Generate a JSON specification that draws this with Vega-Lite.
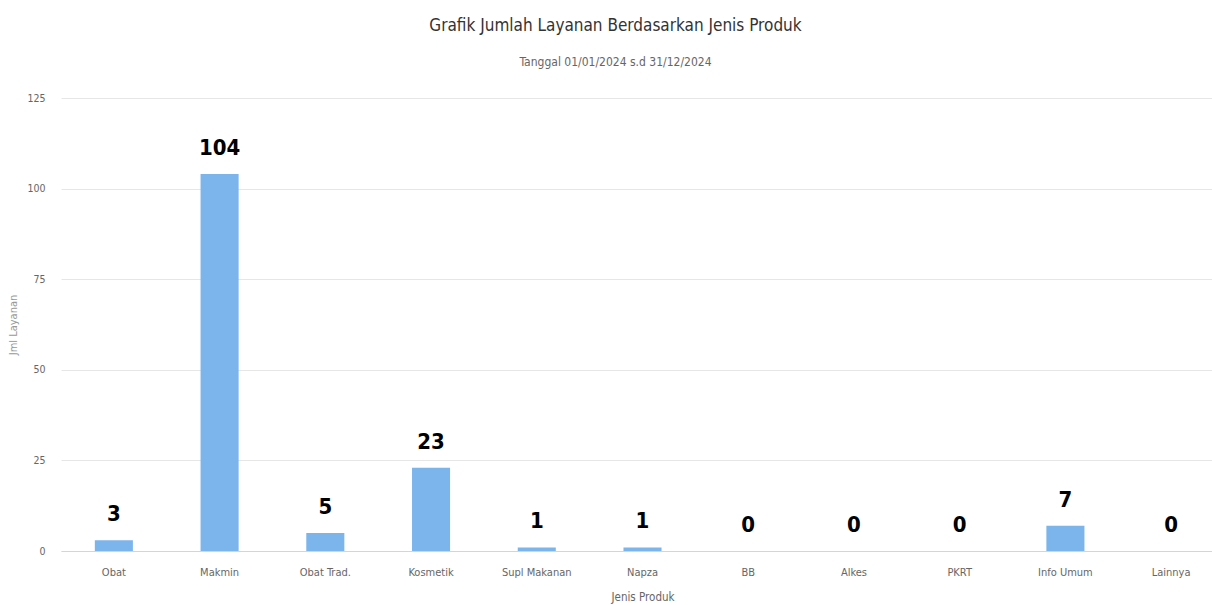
{
  "$schema": "https://vega.github.io/schema/vega-lite/v6.json",
  "width": 1163,
  "height": 453,
  "autosize": {"type": "none"},
  "padding": {"left": 61, "top": 98, "right": 0, "bottom": 54},
  "background": "white",
  "title": {
    "text": "Grafik Jumlah Layanan Berdasarkan Jenis Produk",
    "subtitle": "Tanggal 01/01/2024 s.d 31/12/2024",
    "anchor": "middle",
    "dx": -27,
    "offset": 24,
    "font": "DejaVu Sans Condensed",
    "fontSize": 17,
    "fontWeight": "normal",
    "color": "#333333",
    "subtitleFont": "DejaVu Sans Condensed",
    "subtitleFontSize": 12,
    "subtitleColor": "#666666",
    "subtitlePadding": 22
  },
  "data": {
    "values": [
      {"produk": "Obat", "jumlah": 3},
      {"produk": "Makmin", "jumlah": 104},
      {"produk": "Obat Trad.", "jumlah": 5},
      {"produk": "Kosmetik", "jumlah": 23},
      {"produk": "Supl Makanan", "jumlah": 1},
      {"produk": "Napza", "jumlah": 1},
      {"produk": "BB", "jumlah": 0},
      {"produk": "Alkes", "jumlah": 0},
      {"produk": "PKRT", "jumlah": 0},
      {"produk": "Info Umum", "jumlah": 7},
      {"produk": "Lainnya", "jumlah": 0}
    ]
  },
  "encoding": {
    "x": {
      "field": "produk",
      "type": "nominal",
      "sort": null,
      "scale": {"paddingInner": 0.64, "paddingOuter": 0.32},
      "axis": {
        "title": "Jenis Produk",
        "labelAngle": 0,
        "labelFont": "DejaVu Sans Condensed",
        "labelFontSize": 11,
        "labelColor": "#666666",
        "labelPadding": 15,
        "ticks": false,
        "domainColor": "#ccd6eb",
        "domainWidth": 1,
        "titleFont": "DejaVu Sans Condensed",
        "titleFontSize": 11.5,
        "titleFontWeight": "normal",
        "titleColor": "#666666",
        "titlePadding": 14
      }
    },
    "y": {
      "field": "jumlah",
      "type": "quantitative",
      "scale": {"domain": [0, 125], "nice": false},
      "axis": {
        "title": "Jml Layanan",
        "values": [0, 25, 50, 75, 100, 125],
        "domain": false,
        "ticks": false,
        "gridColor": "#e6e6e6",
        "labelFont": "DejaVu Sans Condensed",
        "labelFontSize": 10.5,
        "labelColor": "#666666",
        "labelPadding": 16,
        "titleFont": "DejaVu Sans Condensed",
        "titleFontSize": 11,
        "titleFontWeight": "normal",
        "titleColor": "#999999",
        "titlePadding": 8
      }
    }
  },
  "layer": [
    {"mark": {"type": "bar", "color": "#7cb5ec"}},
    {
      "mark": {
        "type": "text",
        "font": "DejaVu Sans Condensed",
        "fontSize": 22,
        "fontWeight": "bold",
        "color": "#000000",
        "baseline": "alphabetic",
        "dy": -19
      },
      "encoding": {"text": {"field": "jumlah", "type": "quantitative"}}
    }
  ],
  "config": {"view": {"stroke": null}}
}
